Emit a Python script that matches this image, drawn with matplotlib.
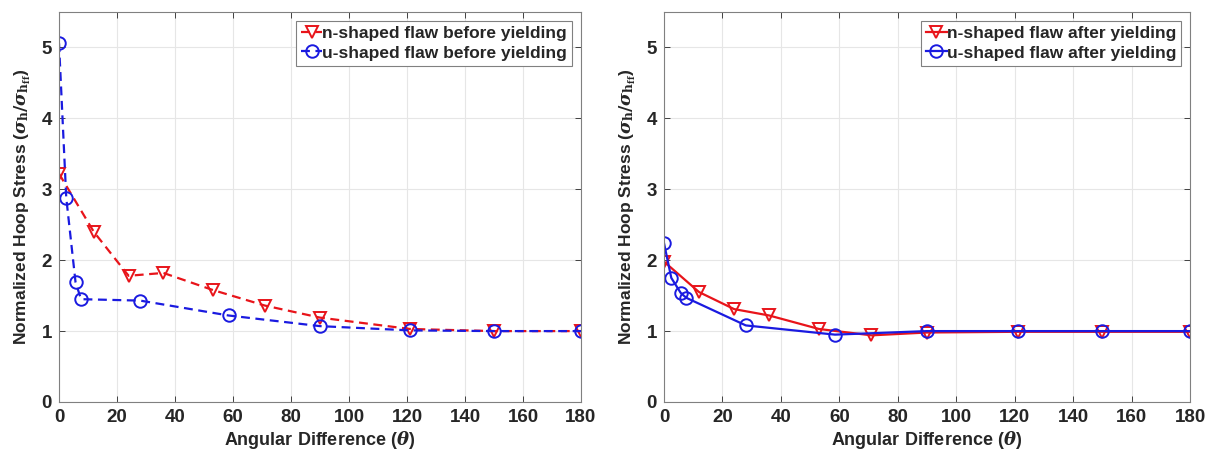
import numpy as np
import matplotlib
matplotlib.use('Agg')
from matplotlib import pyplot as plt

plt.rcParams['font.family'] = ['Liberation Sans', 'DejaVu Sans']
plt.rcParams['font.weight'] = 'bold'
plt.rcParams['mathtext.fontset'] = 'dejavuserif'

# angular positions of the sample points
theta_n = [0, 12, 24, 36, 53, 71, 90, 121, 150, 180]
theta_u = [0, 2.5, 5.7, 7.6, 28, 58.5, 90, 121, 150, 180]

# before yielding (dashed)
n_before = [3.22, 2.40, 1.78, 1.82, 1.58, 1.36, 1.19, 1.03, 1.00, 1.00]
u_before = [5.06, 2.88, 1.69, 1.45, 1.43, 1.22, 1.07, 1.01, 1.00, 1.00]

# after yielding (solid)
n_after = [1.98, 1.55, 1.31, 1.22, 1.03, 0.94, 0.98, 0.99, 0.99, 0.99]
u_after = [2.24, 1.75, 1.54, 1.47, 1.08, 0.95, 1.00, 1.00, 1.00, 1.00]

xticks = np.arange(0, 181, 20)
yticks = np.arange(0, 6, 1)

fig = plt.figure(figsize=(12.1, 4.53), dpi=100)
ax1 = fig.add_axes([59 / 1210, 1 - 402 / 453, 522 / 1210, 390 / 453])
ax2 = fig.add_axes([664 / 1210, 1 - 402 / 453, 526 / 1210, 390 / 453])

panels = [
    (ax1, (0, (4, 2.5)), n_before, u_before, 'n-shaped flaw before yielding', 'u-shaped flaw before yielding'),
    (ax2, '-', n_after, u_after, 'n-shaped flaw after yielding', 'u-shaped flaw after yielding'),
]

for ax, ls, yn, yu, ln, lu in panels:
    ax.plot(theta_n, yn, ls=ls, color='#e8141a', lw=1.6, marker='v', ms=9,
            mfc='none', mew=1.4, label=ln)
    ax.plot(theta_u, yu, ls=ls, color='#1a1ae0', lw=1.6, marker='o', ms=9,
            mfc='none', mew=1.4, label=lu)
    ax.set_xlim(0, 180)
    ax.set_ylim(0, 5.5)
    ax.set_xticks(xticks)
    ax.set_yticks(yticks)
    ax.grid(True, color='#e6e6e6', lw=0.8)
    ax.set_axisbelow(True)
    ax.tick_params(direction='in', top=True, right=True, labelsize=13.5,
                   colors='#262626', length=4, width=0.6, pad=5)
    for lab in ax.get_xticklabels() + ax.get_yticklabels():
        lab.set_fontweight('bold')
    for sp in ax.spines.values():
        sp.set_color('#808080')
        sp.set_linewidth(0.8)
    ax.set_xlabel(r'Angular Difference ($\theta$)', fontsize=13,
                  fontweight='bold', color='#262626', labelpad=2)
    ax.set_ylabel(r'Normalized Hoop Stress ($\sigma_{\mathrm{h}}/\sigma_{\mathrm{h_{ff}}}$)',
                  fontsize=12.5, fontweight='bold', color='#262626', labelpad=6)
    leg = ax.legend(loc='upper right', fontsize=12.5, handlelength=1.2,
                    handletextpad=0.0, borderpad=0.3, labelspacing=0.25,
                    fancybox=False, framealpha=1, borderaxespad=0.5)
    leg.get_frame().set_edgecolor('#808080')
    leg.get_frame().set_linewidth(0.8)
    for t in leg.get_texts():
        t.set_color('#262626')

fig.savefig('out.png', dpi=100)
